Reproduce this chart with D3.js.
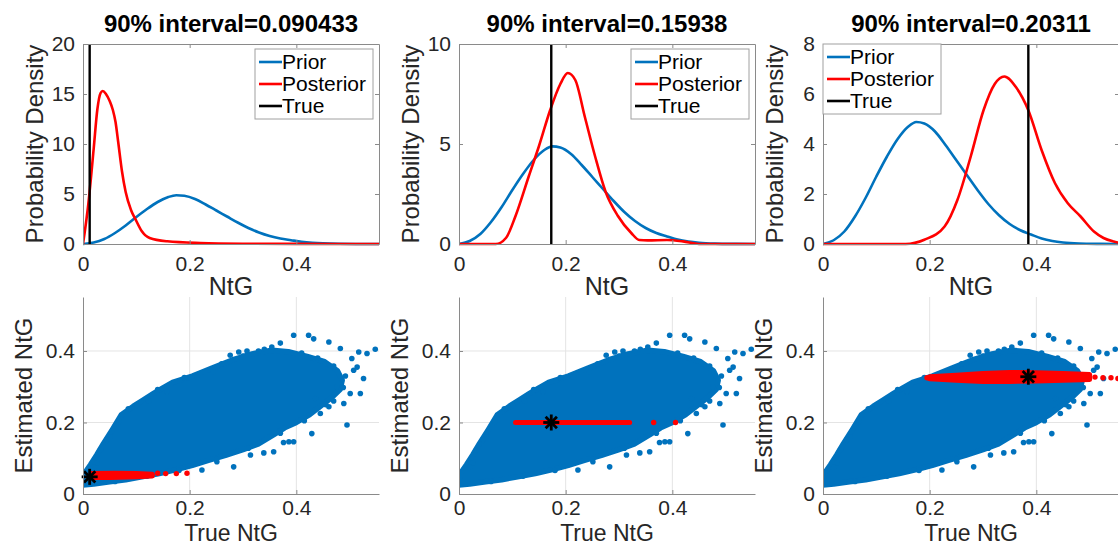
<!DOCTYPE html>
<html>
<head>
<meta charset="utf-8">
<script src="https://cdn.jsdelivr.net/npm/d3@7"></script>
<style>
  body { margin: 0; background: #fff; }
  svg { display: block; }
</style>
</head>
<body>
<script>
// ---- data ----
var titles = ["90% interval=0.090433", "90% interval=0.15938", "90% interval=0.20311"];
var trueNtG = [0.0125, 0.173, 0.385];
var estNtG = [0.048, 0.2, 0.328];
var densityMax = [20, 10, 8];
var densityTicks = [[0, 5, 10, 15, 20], [0, 5, 10], [0, 2, 4, 6, 8]];
var ntgTicks = [0, 0.2, 0.4];
var legendLabels = ["Prior", "Posterior", "True"];
var legendCorner = ["right", "right", "left"];

// prior density (same in every panel)
var prior = [[0, 0], [0.02, 0.15], [0.04, 0.5], [0.06, 1.1], [0.08, 1.85], [0.10, 2.7], [0.12, 3.5],
  [0.14, 4.2], [0.16, 4.7], [0.175, 4.88], [0.19, 4.82], [0.21, 4.5], [0.23, 3.95], [0.25, 3.35],
  [0.27, 2.75], [0.29, 2.15], [0.31, 1.6], [0.33, 1.15], [0.35, 0.8], [0.37, 0.55], [0.39, 0.38],
  [0.41, 0.22], [0.43, 0.12], [0.45, 0.06], [0.48, 0.02], [0.52, 0.005], [0.555, 0]];

var posterior1 = [[0, 0], [0.01, 4], [0.02, 9.5], [0.027, 13.5], [0.033, 15.1], [0.037, 15.3],
  [0.043, 15], [0.05, 14.3], [0.056, 13.4], [0.061, 12.2], [0.066, 10.2], [0.073, 7.3], [0.08, 5.2],
  [0.09, 3.4], [0.1, 2.3], [0.11, 1.3], [0.125, 0.6], [0.158, 0.27], [0.22, 0.1], [0.3, 0.03],
  [0.4, 0.01], [0.555, 0]];

var posterior2 = [[0, 0], [0.069, 0], [0.088, 0.3], [0.106, 1.4], [0.131, 3.4], [0.15, 4.9],
  [0.171, 6.7], [0.19, 8.0], [0.204, 8.55], [0.218, 8.2], [0.236, 6.35], [0.255, 4.4], [0.275, 2.6],
  [0.298, 1.4], [0.323, 0.55], [0.338, 0.2], [0.354, 0.18], [0.39, 0.2], [0.42, 0.13], [0.45, 0],
  [0.555, 0]];

var posterior3 = [[0, 0], [0.155, 0], [0.19, 0.17], [0.228, 0.7], [0.252, 1.76], [0.277, 3.5],
  [0.301, 5.35], [0.322, 6.4], [0.34, 6.7], [0.362, 6.27], [0.385, 5.35], [0.41, 3.75],
  [0.435, 2.43], [0.459, 1.63], [0.483, 1.1], [0.508, 0.5], [0.526, 0.24], [0.545, 0.1], [0.555, 0.05]];

var posteriors = [posterior1, posterior2, posterior3];

// outline of the dense blue cloud (true NtG, estimated NtG)
var cloudOutline = [[0.000, 0.030], [0.004, 0.060], [0.014, 0.082], [0.026, 0.110], [0.038, 0.140],
  [0.055, 0.180], [0.072, 0.222], [0.094, 0.245], [0.115, 0.265], [0.131, 0.280], [0.150, 0.297],
  [0.168, 0.312], [0.205, 0.330], [0.242, 0.352], [0.280, 0.375], [0.317, 0.392], [0.354, 0.402],
  [0.385, 0.398], [0.420, 0.385], [0.453, 0.370], [0.477, 0.345], [0.486, 0.318], [0.482, 0.292],
  [0.465, 0.268], [0.445, 0.245], [0.425, 0.222], [0.400, 0.200], [0.378, 0.185], [0.360, 0.168],
  [0.329, 0.140], [0.300, 0.124], [0.267, 0.108], [0.235, 0.094], [0.205, 0.080], [0.175, 0.068],
  [0.143, 0.057], [0.110, 0.048], [0.080, 0.040], [0.050, 0.034], [0.020, 0.028], [0.000, 0.025]];

// loose blue points outside / on the rim of the dense cloud
var cloudOutliers = [[0.548, 0.405], [0.526, 0.323], [0.514, 0.355], [0.495, 0.193], [0.47, 0.26],
  [0.461, 0.244], [0.436, 0.267], [0.445, 0.225], [0.429, 0.169], [0.395, 0.146], [0.376, 0.144],
  [0.386, 0.146], [0.3575, 0.118], [0.339, 0.115], [0.314, 0.109], [0.2825, 0.076], [0.251, 0.09],
  [0.223, 0.067], [0.276, 0.388], [0.292, 0.397], [0.3075, 0.4], [0.329, 0.4], [0.354, 0.411],
  [0.37, 0.422], [0.395, 0.444], [0.423, 0.444], [0.4325, 0.434], [0.461, 0.425], [0.4825, 0.407],
  [0.504, 0.379], [0.517, 0.397], [0.5325, 0.393], [0.5075, 0.346], [0.476, 0.3], [0.501, 0.281],
  [0.52, 0.281], [0.489, 0.253], [0.026, 0.087], [0.0325, 0.123], [0.051, 0.16], [0.067, 0.202],
  [0.101, 0.248], [0.123, 0.26], [0.1575, 0.286], [0.214, 0.327], [0.245, 0.341],
  [0.02, 0.075], [0.045, 0.152], [0.085, 0.238], [0.14, 0.292], [0.19, 0.326], [0.26, 0.364],
  [0.30, 0.386], [0.34, 0.405], [0.41, 0.394], [0.44, 0.38], [0.47, 0.358], [0.492, 0.33],
  [0.488, 0.298], [0.455, 0.25], [0.415, 0.205], [0.37, 0.17], [0.31, 0.128], [0.25, 0.097],
  [0.18, 0.066], [0.12, 0.05], [0.06, 0.035]];

// red samples matching the observed estimate
var redBand1 = [[0.015, 0.046], [0.015, 0.057], [0.06, 0.058], [0.1, 0.057], [0.13, 0.055],
  [0.13, 0.050], [0.1, 0.048], [0.05, 0.046]];
var redDots1 = [[0.14, 0.058], [0.155, 0.057], [0.175, 0.057], [0.195, 0.058]];
var redBand2 = [[0.106, 0.2], [0.32, 0.2]];
var redDots2 = [[0.365, 0.2], [0.406, 0.2]];
var redBand3 = [[0.2, 0.322], [0.25, 0.318], [0.3, 0.315], [0.35, 0.315], [0.4, 0.316],
  [0.45, 0.318], [0.5, 0.32], [0.5, 0.334], [0.45, 0.337], [0.4, 0.339], [0.35, 0.34],
  [0.3, 0.337], [0.25, 0.332], [0.2, 0.328]];
var redDots3 = [[0.195, 0.325], [0.51, 0.327], [0.525, 0.325], [0.54, 0.325], [0.553, 0.323]];
var redBands = [redBand1, redBand2, redBand3];
var redDots = [redDots1, redDots2, redDots3];

// ---- layout ----
var W = 1118, H = 546;
var fontFam = "'Liberation Sans', Arial, Helvetica, sans-serif";
var blue = "#0072BD", red = "#FF0000", axisCol = "#8a8a8a", textCol = "#262626";
var colX = [83, 459, 823], axW = 296;
var topRow = { y0: 44, y1: 244 }, botRow = { y0: 297, y1: 494 };
var xMax = 0.555, scatterMax = 0.551;

var svg = d3.select("body").append("svg").attr("width", W).attr("height", H);

function styleAxis(g) {
  g.attr("font-family", fontFam).attr("font-size", 21).attr("color", textCol);
  g.selectAll("path, line").attr("stroke", axisCol);
}

function clipFor(id, x0, y0, w, h) {
  svg.append("clipPath").attr("id", id).append("rect")
    .attr("x", x0).attr("y", y0).attr("width", w).attr("height", h);
  return "url(#" + id + ")";
}

colX.forEach(function (x0, i) {
  var x = d3.scaleLinear().domain([0, xMax]).range([x0, x0 + axW]);

  // ---------- top row: densities ----------
  var y = d3.scaleLinear().domain([0, densityMax[i]]).range([topRow.y1, topRow.y0]);
  var clipTop = clipFor("clipT" + i, x0, topRow.y0 - 2, axW, topRow.y1 - topRow.y0 + 4);
  var gTop = svg.append("g");

  var line = d3.line().curve(d3.curveMonotoneX)
    .x(function (d) { return x(d[0]); })
    .y(function (d) { return y(d[1]); });

  var plot = gTop.append("g").attr("clip-path", clipTop);
  plot.append("path").datum(prior).attr("d", line)
    .attr("fill", "none").attr("stroke", blue).attr("stroke-width", 2.6);
  plot.append("path").datum(posteriors[i]).attr("d", line)
    .attr("fill", "none").attr("stroke", red).attr("stroke-width", 2.6);
  plot.append("line")
    .attr("x1", x(trueNtG[i])).attr("x2", x(trueNtG[i]))
    .attr("y1", y(0)).attr("y2", y(densityMax[i]))
    .attr("stroke", "#000").attr("stroke-width", 2.4);

  gTop.append("g").attr("transform", "translate(0," + topRow.y1 + ")")
    .call(d3.axisBottom(x).tickValues(ntgTicks).tickSizeInner(-4).tickSizeOuter(0).tickPadding(12)
      .tickFormat(function (d) { return String(d); }))
    .call(styleAxis);
  gTop.append("g").attr("transform", "translate(0," + topRow.y0 + ")")
    .call(d3.axisTop(x).tickValues(ntgTicks).tickSizeInner(-4).tickSizeOuter(0).tickFormat(""))
    .call(styleAxis);
  gTop.append("g").attr("transform", "translate(" + x0 + ",0)")
    .call(d3.axisLeft(y).tickValues(densityTicks[i]).tickSizeInner(-4).tickSizeOuter(0).tickPadding(8))
    .call(styleAxis);
  gTop.append("g").attr("transform", "translate(" + (x0 + axW) + ",0)")
    .call(d3.axisRight(y).tickValues(densityTicks[i]).tickSizeInner(-4).tickSizeOuter(0).tickFormat(""))
    .call(styleAxis);

  svg.append("text").attr("x", x0 + axW / 2).attr("y", 32)
    .attr("text-anchor", "middle").attr("font-family", fontFam)
    .attr("font-size", 24).attr("font-weight", "bold").attr("fill", "#000")
    .text(titles[i]);
  svg.append("text").attr("x", x0 + axW / 2).attr("y", topRow.y1 + 51)
    .attr("text-anchor", "middle").attr("font-family", fontFam)
    .attr("font-size", 25).attr("fill", textCol).text("NtG");
  svg.append("text")
    .attr("transform", "translate(" + (x0 - 40) + "," + ((topRow.y0 + topRow.y1) / 2) + ") rotate(-90)")
    .attr("text-anchor", "middle").attr("font-family", fontFam)
    .attr("font-size", 24).attr("fill", textCol).text("Probability Density");

  // legend
  var lw = 118, lh = 70;
  var lx = legendCorner[i] === "right" ? x0 + axW - lw - 6 : x0;
  var ly = legendCorner[i] === "right" ? topRow.y0 + 5 : topRow.y0;
  var leg = svg.append("g").attr("transform", "translate(" + lx + "," + ly + ")");
  leg.append("rect").attr("width", lw).attr("height", lh)
    .attr("fill", "#fff").attr("stroke", "#a0a0a0").attr("stroke-width", 1);
  var legColors = [blue, red, "#000"];
  legendLabels.forEach(function (lab, k) {
    var cy = 13 + k * 22;
    leg.append("line").attr("x1", 4).attr("x2", 27).attr("y1", cy).attr("y2", cy)
      .attr("stroke", legColors[k]).attr("stroke-width", 2.6);
    leg.append("text").attr("x", 27).attr("y", cy).attr("dy", "0.35em")
      .attr("font-family", fontFam).attr("font-size", 21).attr("fill", "#000").text(lab);
  });

  // ---------- bottom row: scatter ----------
  var ys = d3.scaleLinear().domain([0, scatterMax]).range([botRow.y1, botRow.y0]);
  var clipBot = clipFor("clipB" + i, x0, botRow.y0, axW, botRow.y1 - botRow.y0);
  var gBot = svg.append("g");

  var grid = gBot.append("g");
  ntgTicks.slice(1).forEach(function (t) {
    grid.append("line").attr("x1", x(t)).attr("x2", x(t))
      .attr("y1", botRow.y0).attr("y2", botRow.y1).attr("stroke", "#e4e4e4").attr("stroke-width", 1);
    grid.append("line").attr("x1", x0).attr("x2", x0 + axW)
      .attr("y1", ys(t)).attr("y2", ys(t)).attr("stroke", "#e4e4e4").attr("stroke-width", 1);
  });

  var area = d3.line().curve(d3.curveLinearClosed)
    .x(function (d) { return x(d[0]); })
    .y(function (d) { return ys(d[1]); });

  var sc = gBot.append("g").attr("clip-path", clipBot);
  sc.append("path").datum(cloudOutline).attr("d", area)
    .attr("fill", blue).attr("stroke", blue).attr("stroke-width", 5.5).attr("stroke-linejoin", "round");
  sc.selectAll("circle.out").data(cloudOutliers).enter().append("circle")
    .attr("cx", function (d) { return x(d[0]); })
    .attr("cy", function (d) { return ys(d[1]); })
    .attr("r", 2.8).attr("fill", blue);

  sc.append("path").datum(redBands[i]).attr("d", area)
    .attr("fill", red).attr("stroke", red).attr("stroke-width", 5)
    .attr("stroke-linejoin", "round").attr("stroke-linecap", "round");
  sc.selectAll("circle.red").data(redDots[i]).enter().append("circle")
    .attr("cx", function (d) { return x(d[0]); })
    .attr("cy", function (d) { return ys(d[1]); })
    .attr("r", 2.7).attr("fill", red);

  // asterisk marker at (true, estimate)
  var ax = x(trueNtG[i]), ay = ys(estNtG[i]), r = 8;
  var star = gBot.append("g").attr("stroke", "#000").attr("stroke-width", 2.8);
  [0, 45, 90, 135].forEach(function (a) {
    var rad = a * Math.PI / 180;
    star.append("line")
      .attr("x1", ax - r * Math.cos(rad)).attr("y1", ay - r * Math.sin(rad))
      .attr("x2", ax + r * Math.cos(rad)).attr("y2", ay + r * Math.sin(rad));
  });

  gBot.append("g").attr("transform", "translate(0," + botRow.y1 + ")")
    .call(d3.axisBottom(x).tickValues(ntgTicks).tickSizeInner(-4).tickSizeOuter(0).tickPadding(6)
      .tickFormat(function (d) { return String(d); }))
    .call(styleAxis);
  gBot.append("g").attr("transform", "translate(" + x0 + ",0)")
    .call(d3.axisLeft(ys).tickValues(ntgTicks).tickSizeInner(-4).tickSizeOuter(0).tickPadding(8)
      .tickFormat(function (d) { return String(d); }))
    .call(styleAxis);

  svg.append("text").attr("x", x0 + axW / 2).attr("y", botRow.y1 + 47)
    .attr("text-anchor", "middle").attr("font-family", fontFam)
    .attr("font-size", 23).attr("fill", textCol).text("True NtG");
  svg.append("text")
    .attr("transform", "translate(" + (x0 - 51) + "," + ((botRow.y0 + botRow.y1) / 2) + ") rotate(-90)")
    .attr("text-anchor", "middle").attr("font-family", fontFam)
    .attr("font-size", 24).attr("fill", textCol).text("Estimated NtG");
});
</script>
</body>
</html>
